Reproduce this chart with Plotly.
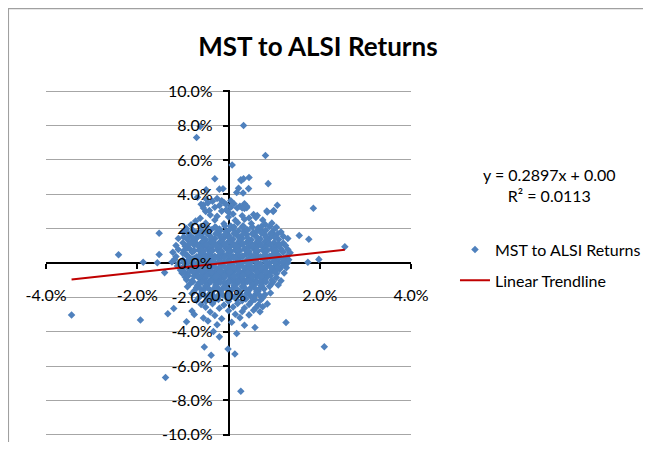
import plotly.graph_objects as go

# ALSI daily returns (x, %) and MST daily returns (y, %)
outlier_alsi = [-0.62, -0.70, 0.33, 0.81, 0.08, 0.87, 0.45, 0.27, 0.33, -0.30, 0.22, 0.44, -0.20, -0.12,
                0.18, 1.07, 1.86, 2.55, -1.52, -2.41, -1.52, -1.87, -1.56, -1.24, -1.40, 1.74, 1.98, 1.27,
                -3.44, -1.93, -1.38, -0.38, -0.53, -0.01, 0.14, 0.27, 2.10, 1.26, 0.58, -0.33, -0.20, 0.18,
                -0.49, 0.32, 0.63, 0.84, 0.99, 0.28, -1.20, 1.30, 1.09]
outlier_mst = [7.95, 7.30, 8.00, 6.26, 5.70, 4.62, 4.98, 4.85, 4.90, 4.90, 4.35, 4.33, 4.30, 4.32,
               4.10, 3.36, 3.19, 0.95, 1.73, 0.48, 0.49, 0.04, 0.02, 0.06, -0.56, 0.04, 0.21, -0.27,
               -3.03, -3.32, -6.67, -5.37, -4.89, -5.00, -5.30, -7.46, -4.88, -3.46, -3.75, -3.99, -4.30, -4.10,
               4.26, 4.08, 2.76, 3.03, 3.05, 4.80, -2.65, 0.02, -1.28]

upper_alsi = [-0.68, -0.25, -0.35, 0.05, -0.10, -0.45, -0.55, 0.12, -0.20, 0.25, -0.60, -0.30, 0.19, 0.35,
              0.40, -0.05, -0.50, 0.00, 0.98, 0.85, -0.15, -0.40, 0.10, 0.30, 0.55, -0.25, 0.00, 0.60,
              -0.62, 0.45, -0.30, 0.15, 0.35, -0.72, 0.75, -0.50, -0.10, 0.20, 0.50, 0.80, 0.95, -0.82,
              -0.60, -0.30, 0.05, 0.30, 0.65, 0.90, 1.05, -0.92, -0.20, 0.10, 0.40, 0.70, 1.00, -0.45,
              -0.55, -0.42, -0.48, -0.15, 0.35, 0.40, 0.30, -0.05, 0.05]
upper_mst = [3.83, 3.75, 3.60, 3.62, 3.52, 3.50, 3.38, 3.45, 3.35, 3.30, 3.42, 3.25, 3.20, 3.18,
             3.22, 3.10, 3.00, 2.95, 3.00, 2.97, 3.02, 2.80, 2.85, 2.75, 2.82, 2.72, 2.68, 2.65,
             2.60, 2.62, 2.50, 2.48, 2.55, 2.45, 2.50, 2.32, 2.28, 2.35, 2.30, 2.25, 2.32, 2.22,
             2.12, 2.08, 2.15, 2.10, 2.05, 2.12, 2.08, 2.00, 1.98, 2.00, 1.95, 1.97, 1.97, 1.92,
             3.20, 3.05, 3.70, 3.62, 3.45, 3.30, 3.20, 3.40, 3.25]

core_alsi = [-1.00, -0.70, -0.45, -0.25, -0.05, 0.15, 0.35, 0.55, 0.75, 0.95, 1.15,
             -0.85, -0.60, -0.40, -0.20, 0.00, 0.20, 0.40, 0.60, 0.80, 1.00, 1.20, 1.55,
             -1.10, -0.90, -0.70, -0.50, -0.30, -0.10, 0.10, 0.30, 0.50, 0.70, 0.90, 1.10, 1.30, 1.76,
             -1.00, -0.80, -0.60, -0.40, -0.20, 0.00, 0.20, 0.40, 0.60, 0.80, 1.00, 1.20,
             -1.15, -0.95, -0.75, -0.55, -0.35, -0.15, 0.05, 0.25, 0.45, 0.65, 0.85, 1.05, 1.25,
             -1.10, -0.85, -0.65, -0.45, -0.25, -0.05, 0.15, 0.35, 0.55, 0.75, 0.95, 1.15, 1.30,
             -1.22, -1.00, -0.80, -0.60, -0.40, -0.20, 0.00, 0.20, 0.40, 0.60, 0.80, 1.00, 1.20, 1.35,
             -1.15, -0.90, -0.70, -0.50, -0.30, -0.10, 0.10, 0.30, 0.50, 0.70, 0.90, 1.10, 1.28,
             -1.18, -1.00, -0.80, -0.60, -0.40, -0.20, 0.00, 0.20, 0.40, 0.60, 0.80, 1.00, 1.20, 1.32,
             -1.10, -0.90, -0.70, -0.50, -0.30, -0.10, 0.10, 0.30, 0.50, 0.70, 0.90, 1.10, 1.25,
             -1.12, -1.00, -0.80, -0.60, -0.40, -0.20, 0.00, 0.20, 0.40, 0.60, 0.80, 1.00, 1.18,
             -1.05, -0.85, -0.65, -0.45, -0.25, -0.05, 0.15, 0.35, 0.55, 0.75, 0.95, 1.12,
             -1.02, -0.90, -0.70, -0.50, -0.30, -0.10, 0.10, 0.30, 0.50, 0.70, 0.90, 1.05, 1.22,
             -0.95, -0.75, -0.55, -0.35, -0.15, 0.05, 0.25, 0.45, 0.65, 0.85, 1.05,
             -0.92, -0.80, -0.60, -0.40, -0.20, 0.00, 0.20, 0.40, 0.60, 0.80, 0.95, 1.15,
             -0.85, -0.65, -0.45, -0.25, -0.05, 0.15, 0.35, 0.55, 0.75, 0.95,
             -0.90, -0.70, -0.50, -0.30, -0.10, 0.10, 0.30, 0.50, 0.70, 0.90,
             -0.75, -0.55, -0.35, -0.15, 0.05, 0.25, 0.45, 0.65, 0.92,
             -0.80, -0.60, -0.40, -0.20, 0.00, 0.20, 0.40, 0.60, 0.80]
core_mst = [1.82, 1.76, 1.85, 1.78, 1.83, 1.75, 1.84, 1.79, 1.81, 1.77, 1.80,
            1.58, 1.63, 1.55, 1.65, 1.60, 1.57, 1.64, 1.56, 1.62, 1.59, 1.55, 1.60,
            1.42, 1.37, 1.44, 1.36, 1.41, 1.45, 1.38, 1.43, 1.35, 1.40, 1.44, 1.37, 1.42, 1.38,
            1.18, 1.24, 1.16, 1.22, 1.19, 1.25, 1.17, 1.21, 1.15, 1.23, 1.20, 1.17,
            1.02, 0.97, 1.04, 0.96, 1.01, 1.05, 0.98, 1.03, 0.95, 1.00, 1.04, 0.97, 1.02,
            0.78, 0.83, 0.76, 0.82, 0.79, 0.85, 0.77, 0.81, 0.84, 0.76, 0.80, 0.83, 0.78,
            0.62, 0.57, 0.64, 0.56, 0.61, 0.65, 0.58, 0.63, 0.55, 0.60, 0.64, 0.57, 0.62, 0.59,
            0.38, 0.43, 0.36, 0.42, 0.39, 0.45, 0.37, 0.41, 0.44, 0.36, 0.40, 0.43, 0.38,
            0.22, 0.17, 0.24, 0.16, 0.21, 0.25, 0.18, 0.23, 0.15, 0.20, 0.24, 0.17, 0.22, 0.19,
            -0.02, 0.03, -0.04, 0.02, -0.01, 0.05, -0.03, 0.01, 0.04, -0.04, 0.00, 0.03, -0.02,
            -0.18, -0.23, -0.16, -0.22, -0.19, -0.25, -0.17, -0.21, -0.24, -0.16, -0.20, -0.23, -0.18,
            -0.42, -0.37, -0.44, -0.36, -0.41, -0.45, -0.38, -0.43, -0.35, -0.40, -0.44, -0.37,
            -0.58, -0.63, -0.56, -0.62, -0.59, -0.65, -0.57, -0.61, -0.64, -0.56, -0.60, -0.63, -0.58,
            -0.82, -0.77, -0.84, -0.76, -0.81, -0.85, -0.78, -0.83, -0.75, -0.80, -0.84,
            -0.98, -1.03, -0.96, -1.02, -0.99, -1.05, -0.97, -1.01, -1.04, -0.96, -1.00, -1.03,
            -1.22, -1.17, -1.24, -1.16, -1.21, -1.25, -1.18, -1.23, -1.15, -1.20,
            -1.38, -1.43, -1.36, -1.42, -1.39, -1.45, -1.37, -1.41, -1.44, -1.36,
            -1.62, -1.57, -1.64, -1.56, -1.61, -1.65, -1.58, -1.63, -1.75,
            -1.78, -1.83, -1.76, -1.82, -1.79, -1.85, -1.77, -1.81, -1.84]

fill_alsi = [-0.75, -0.55, -0.35, -0.15, 0.05, 0.25, 0.45, 0.65, 0.85,
             -0.70, -0.50, -0.30, -0.10, 0.10, 0.30, 0.50, 0.70, 0.90, 1.10,
             -0.90, -0.60, -0.40, -0.20, 0.00, 0.20, 0.40, 0.60, 0.80, 1.00,
             -0.75, -0.55, -0.35, -0.15, 0.05, 0.25, 0.45, 0.65, 0.85, 1.05,
             -0.95, -0.60, -0.40, -0.20, 0.00, 0.20, 0.40, 0.60, 0.80, 1.00,
             -0.75, -0.55, -0.35, -0.15, 0.05, 0.25, 0.45, 0.65, 0.85, 1.05,
             -0.90, -0.60, -0.40, -0.20, 0.00, 0.20, 0.40, 0.60, 0.80, 1.00,
             -0.75, -0.55, -0.35, -0.15, 0.05, 0.25, 0.45, 0.65, 0.85, 1.05,
             -0.90, -0.60, -0.40, -0.20, 0.00, 0.20, 0.40, 0.60, 0.80, 1.00,
             -0.75, -0.55, -0.35, -0.15, 0.05, 0.25, 0.45, 0.65, 0.85,
             -0.60, -0.40, -0.20, 0.00, 0.20, 0.40, 0.60, 0.80,
             -0.50, -0.30, -0.10, 0.10, 0.30, 0.50, 0.70,
             -0.50, -0.30, -0.10, 0.10, 0.30, 0.50, 0.70]
fill_mst = [1.31, 1.27, 1.33, 1.29, 1.26, 1.32, 1.28, 1.30, 1.34,
            1.12, 1.08, 1.13, 1.07, 1.11, 1.09, 1.14, 1.06, 1.10, 1.12,
            0.88, 0.92, 0.87, 0.93, 0.89, 0.91, 0.86, 0.94, 0.90, 0.88,
            0.71, 0.67, 0.73, 0.69, 0.66, 0.72, 0.68, 0.70, 0.74, 0.69,
            0.52, 0.48, 0.53, 0.47, 0.51, 0.49, 0.54, 0.46, 0.50, 0.52,
            0.28, 0.32, 0.27, 0.33, 0.29, 0.31, 0.26, 0.34, 0.30, 0.28,
            0.11, 0.07, 0.13, 0.09, 0.06, 0.12, 0.08, 0.10, 0.14, 0.09,
            -0.12, -0.08, -0.13, -0.07, -0.11, -0.09, -0.14, -0.06, -0.10, -0.12,
            -0.28, -0.32, -0.27, -0.33, -0.29, -0.31, -0.26, -0.34, -0.30, -0.28,
            -0.51, -0.47, -0.53, -0.49, -0.46, -0.52, -0.48, -0.50, -0.54,
            -0.72, -0.68, -0.73, -0.67, -0.71, -0.69, -0.74, -0.70,
            -0.88, -0.92, -0.87, -0.93, -0.89, -0.91, -0.86,
            -1.11, -1.07, -1.13, -1.09, -1.06, -1.12, -1.08]

dense_alsi = [-0.48, -0.28, -0.08, 0.12, 0.32, 0.52, 0.72,
              -0.78, -0.58, -0.38, -0.18, 0.02, 0.22, 0.42, 0.62, 0.82,
              -0.88, -0.68, -0.48, -0.28, -0.08, 0.12, 0.32, 0.52, 0.72, 0.92, 1.08,
              -0.98, -0.78, -0.58, -0.38, -0.18, 0.02, 0.22, 0.42, 0.62, 0.82, 1.02,
              -0.88, -0.68, -0.48, -0.28, -0.08, 0.12, 0.32, 0.52, 0.72, 0.92, 1.12,
              -0.98, -0.78, -0.58, -0.38, -0.18, 0.02, 0.22, 0.42, 0.62, 0.82, 1.02, 1.18,
              -0.88, -0.68, -0.48, -0.28, -0.08, 0.12, 0.32, 0.52, 0.72, 0.92, 1.12,
              -0.98, -0.78, -0.58, -0.38, -0.18, 0.02, 0.22, 0.42, 0.62, 0.82, 1.02, 1.18,
              -0.88, -0.68, -0.48, -0.28, -0.08, 0.12, 0.32, 0.52, 0.72, 0.92, 1.08,
              -0.98, -0.78, -0.58, -0.38, -0.18, 0.02, 0.22, 0.42, 0.62, 0.82, 1.02,
              -0.88, -0.68, -0.48, -0.28, -0.08, 0.12, 0.32, 0.52, 0.72, 0.92,
              -0.78, -0.58, -0.38, -0.18, 0.02, 0.22, 0.42, 0.62, 0.82, 0.98,
              -0.68, -0.48, -0.28, -0.08, 0.12, 0.32, 0.52, 0.72,
              -0.62, -0.42, -0.22, -0.02, 0.18, 0.38, 0.58, 0.78,
              -0.58, -0.38, -0.18, 0.02, 0.22, 0.42, 0.62,
              -0.52, -0.32, -0.12, 0.08, 0.28, 0.48, 0.68,
              -0.42, -0.22, -0.02, 0.18, 0.38, 0.58]
dense_mst = [2.12, 2.08, 2.15, 2.10, 2.16, 2.09, 2.13,
             1.91, 1.87, 1.93, 1.89, 1.94, 1.88, 1.92, 1.86, 1.90,
             1.71, 1.67, 1.73, 1.69, 1.66, 1.72, 1.68, 1.70, 1.74, 1.69, 1.71,
             1.52, 1.48, 1.53, 1.47, 1.51, 1.49, 1.54, 1.46, 1.50, 1.52, 1.48,
             1.07, 1.03, 1.08, 1.02, 1.06, 1.04, 1.09, 1.01, 1.05, 1.07, 1.03,
             0.71, 0.67, 0.73, 0.69, 0.66, 0.72, 0.68, 0.70, 0.74, 0.69, 0.71, 0.67,
             0.36, 0.32, 0.37, 0.31, 0.35, 0.33, 0.38, 0.30, 0.34, 0.36, 0.32,
             0.06, 0.02, 0.07, 0.01, 0.05, 0.03, 0.08, 0.00, 0.04, 0.06, 0.02, 0.05,
             -0.24, -0.28, -0.23, -0.29, -0.25, -0.27, -0.22, -0.30, -0.26, -0.24, -0.28,
             -0.49, -0.53, -0.48, -0.54, -0.50, -0.52, -0.47, -0.55, -0.51, -0.49, -0.53,
             -0.74, -0.78, -0.73, -0.79, -0.75, -0.77, -0.72, -0.80, -0.76, -0.74,
             -1.09, -1.13, -1.08, -1.14, -1.10, -1.12, -1.07, -1.15, -1.11, -1.09,
             -1.29, -1.33, -1.28, -1.34, -1.30, -1.32, -1.27, -1.31,
             -1.49, -1.53, -1.48, -1.54, -1.50, -1.52, -1.47, -1.51,
             -1.69, -1.73, -1.68, -1.74, -1.70, -1.72, -1.67,
             -1.89, -1.93, -1.88, -1.94, -1.90, -1.92, -1.87,
             -2.09, -2.13, -2.08, -2.14, -2.10, -2.12]

lower_alsi = [-0.65, -0.45, -0.25, -0.05, 0.15, 0.35, 0.55, 0.75,
              -0.70, -0.50, -0.30, 0.00, 0.30, 0.50, 0.70,
              -0.60, -0.35, -0.10, 0.20, 0.45, 0.65, 0.85,
              -0.50, -0.20, 0.10, 0.35, 0.60, 0.75,
              -0.80, -0.40, 0.00, 0.30, 0.55, 0.69,
              -1.33, -0.75, -0.30, 0.15, 0.45,
              -0.55, -0.15, 0.25,
              -0.92, -0.45, 0.07,
              -0.25, 0.35]
lower_mst = [-2.02, -1.97, -2.04, -1.96, -2.01, -2.05, -1.98, -2.03,
             -2.18, -2.23, -2.16, -2.22, -2.19, -2.25, -2.17,
             -2.42, -2.37, -2.44, -2.36, -2.41, -2.45, -2.38,
             -2.58, -2.63, -2.56, -2.62, -2.60, -2.55,
             -2.80, -2.85, -2.78, -2.82, -2.75, -2.84,
             -2.95, -3.00, -3.05, -2.98, -3.02,
             -3.20, -3.25, -3.18,
             -3.42, -3.38, -3.45,
             -3.60, -3.62]

alsi_returns = outlier_alsi + upper_alsi + core_alsi + fill_alsi + dense_alsi + lower_alsi
mst_returns = outlier_mst + upper_mst + core_mst + fill_mst + dense_mst + lower_mst

trend_slope = 0.2897
trend_intercept = 0.03  # %
r_squared = 0.0113

x_tick_values = [-4, -2, 0, 2, 4]
x_tick_labels = ["-4.0%", "-2.0%", "0.0%", "2.0%", "4.0%"]
y_tick_values = [-10, -8, -6, -4, -2, 0, 2, 4, 6, 8, 10]
y_tick_labels = ["-10.0%", "-8.0%", "-6.0%", "-4.0%", "-2.0%", "0.0%",
                 "2.0%", "4.0%", "6.0%", "8.0%", "10.0%"]

title_text = "MST to ALSI Returns"
series_name = "MST to ALSI Returns"
trend_name = "Linear Trendline"

FONT = "Lato"
x_lo, x_hi = min(alsi_returns), max(alsi_returns)
trend_x = [x_lo, x_hi]
trend_y = [trend_slope * v + trend_intercept for v in trend_x]

Y_RANGE = [-10.07, 10.07]   # slight pad so the +/-10% gridlines are drawn
X_RANGE = [-4, 4]

fig = go.Figure()
fig.add_trace(go.Scatter(
    x=alsi_returns, y=mst_returns, mode="markers", name=series_name,
    marker=dict(symbol="diamond", size=5.8, color="#4F81BD"),
    legendgroup="a", xaxis="x", yaxis="y"))
fig.add_trace(go.Scatter(
    x=trend_x, y=trend_y, mode="lines", name=trend_name,
    line=dict(color="#C00000", width=2),
    legendgroup="b", xaxis="x2", yaxis="y2"))

common_font = dict(family=FONT, size=16, color="#000000")

# page body adds an 8px margin; figure sized so the page does not overflow
fig.update_layout(
    width=635, height=434,
    margin=dict(l=38, r=232, t=81.8, b=5.8, autoexpand=False),
    paper_bgcolor="white", plot_bgcolor="white",
    font=common_font,
    title=dict(text="<b>" + title_text + "</b>", x=0.488, xanchor="center",
               y=0.910, yanchor="middle", font=dict(family=FONT, size=26, color="#000000")),
    xaxis=dict(range=X_RANGE, domain=[0, 1], anchor="free", position=0.5,
               showline=True, linecolor="#000000", linewidth=2,
               ticks="outside", ticklen=5, tickwidth=2, tickcolor="#000000",
               tickvals=x_tick_values, ticktext=x_tick_labels, showticklabels=False,
               showgrid=False, zeroline=False, layer="below traces", fixedrange=True,
               automargin=False),
    yaxis=dict(range=Y_RANGE, domain=[0, 1], anchor="free", position=0.5,
               showline=True, linecolor="#000000", linewidth=2,
               ticks="outside", ticklen=5, tickwidth=2, tickcolor="#000000",
               tickvals=y_tick_values, ticktext=y_tick_labels, showticklabels=False,
               showgrid=True, gridcolor="#A6A6A6", gridwidth=1.3,
               zeroline=False, layer="below traces", fixedrange=True, automargin=False),
    xaxis2=dict(range=X_RANGE, overlaying="x", anchor="free", position=0.5,
                showline=False, ticks="", tickvals=x_tick_values, ticktext=x_tick_labels,
                tickfont=common_font, ticklabelstandoff=21, ticklabeloverflow="allow",
                showgrid=False, zeroline=False, layer="above traces", fixedrange=True,
                automargin=False),
    yaxis2=dict(range=Y_RANGE, overlaying="y", anchor="free", position=0.5, side="left",
                showline=False, ticks="", tickvals=y_tick_values, ticktext=y_tick_labels,
                tickfont=common_font, ticklabelstandoff=16, ticklabeloverflow="allow",
                showgrid=False, zeroline=False, layer="above traces", fixedrange=True,
                automargin=False),
    showlegend=True,
    legend=dict(x=1.1205, y=0.588, xanchor="left", yanchor="top",
                font=dict(family=FONT, size=16, color="#000000"),
                tracegroupgap=7, bgcolor="rgba(0,0,0,0)"),
    annotations=[dict(
        xref="paper", yref="paper", x=1.38, y=0.724, xanchor="center", yanchor="middle",
        text=f"y = {trend_slope:.4f}x + 0.00<br>R² = {r_squared:.4f}",
        showarrow=False, align="center", font=dict(family=FONT, size=16, color="#000000"))],
    shapes=[dict(type="rect", xref="paper", yref="paper",
                 x0=-0.103, x1=2.5, y0=-0.3, y1=1.235,
                 line=dict(color="#A0A0A0", width=1.3), fillcolor="rgba(0,0,0,0)",
                 layer="below")],
)

fig.write_html("out.html")
